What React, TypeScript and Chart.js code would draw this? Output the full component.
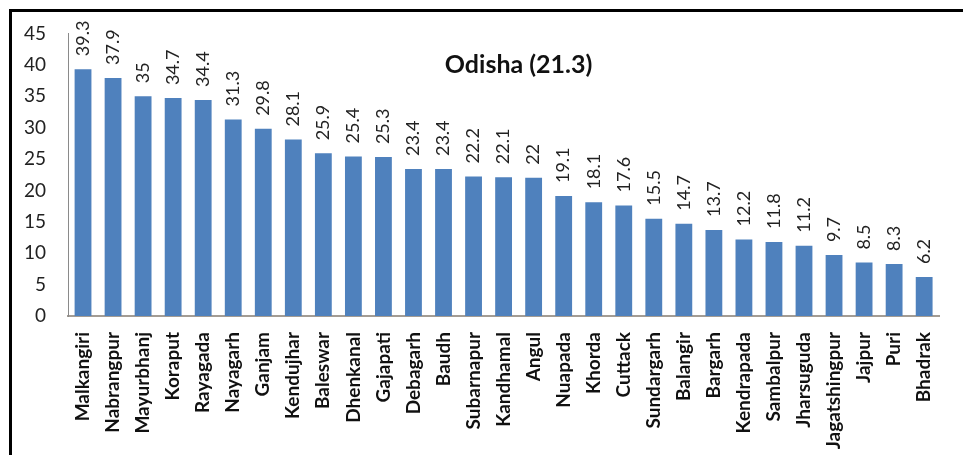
import React, { useEffect, useRef } from "react";
import { Chart, registerables } from "chart.js";

Chart.register(...registerables);

const districts: string[] = [
  "Malkangiri", "Nabrangpur", "Mayurbhanj", "Koraput", "Rayagada", "Nayagarh",
  "Ganjam", "Kendujhar", "Baleswar", "Dhenkanal", "Gajapati", "Debagarh", "Baudh",
  "Subarnapur", "Kandhamal", "Angul", "Nuapada", "Khorda", "Cuttack", "Sundargarh",
  "Balangir", "Bargarh", "Kendrapada", "Sambalpur", "Jharsuguda", "Jagatshingpur",
  "Jajpur", "Puri", "Bhadrak",
];

const values: number[] = [
  39.3, 37.9, 35, 34.7, 34.4, 31.3, 29.8, 28.1, 25.9, 25.4, 25.3, 23.4, 23.4,
  22.2, 22.1, 22, 19.1, 18.1, 17.6, 15.5, 14.7, 13.7, 12.2, 11.8, 11.2, 9.7,
  8.5, 8.3, 6.2,
];

const titleText = "Odisha (21.3)";
const yTicks: number[] = [0, 5, 10, 15, 20, 25, 30, 35, 40, 45];

const FONT = "Lato, 'Open Sans', sans-serif";

const valueLabelPlugin = {
  id: "valueLabels",
  afterDatasetsDraw(chart: any) {
    const ctx = chart.ctx;
    const meta = chart.getDatasetMeta(0);
    ctx.save();
    ctx.font = `18px ${FONT}`;
    ctx.fillStyle = "#222";
    ctx.textAlign = "left";
    ctx.textBaseline = "middle";
    meta.data.forEach((bar: any, i: number) => {
      ctx.save();
      ctx.translate(bar.x, bar.y - 13);
      ctx.rotate(-Math.PI / 2);
      ctx.fillText(String(values[i]), 0, 0);
      ctx.restore();
    });
    ctx.restore();
  },
};

const titlePlugin = {
  id: "innerTitle",
  afterDraw(chart: any) {
    const ctx = chart.ctx;
    const xs = chart.scales.x;
    const ys = chart.scales.y;
    const x = (xs.getPixelForValue(14) + xs.getPixelForValue(15)) / 2;
    const y = ys.getPixelForValue(40);
    ctx.save();
    ctx.font = `bold 25px ${FONT}`;
    ctx.fillStyle = "#111";
    ctx.textAlign = "center";
    ctx.textBaseline = "middle";
    ctx.fillText(titleText, x, y);
    ctx.restore();
  },
};

export default function App() {
  const canvasRef = useRef<HTMLCanvasElement | null>(null);

  useEffect(() => {
    document.body.style.margin = "0";
    document.body.style.overflow = "hidden";
    const canvas = canvasRef.current;
    if (!canvas) return;
    const chart = new Chart(canvas, {
      type: "bar",
      data: {
        labels: districts,
        datasets: [
          {
            data: values,
            backgroundColor: "#4f81bd",
            borderWidth: 0,
            barPercentage: 0.56,
            categoryPercentage: 1,
          },
        ],
      },
      options: {
        animation: false,
        responsive: false,
        maintainAspectRatio: false,
        layout: { padding: { left: 0, right: 2, top: 31, bottom: 0 } },
        plugins: {
          legend: { display: false },
          title: { display: false },
          tooltip: { enabled: false },
        },
        scales: {
          x: {
            grid: { display: false, drawTicks: false },
            border: { display: true, color: "#a39c94", width: 2 },
            ticks: {
              autoSkip: false,
              minRotation: 90,
              maxRotation: 90,
              padding: 16,
              color: "#111",
              font: { family: FONT, size: 19, weight: "bold" },
            },
            afterFit(scale: any) {
              scale.height = 139;
            },
          },
          y: {
            min: 0,
            max: 45,
            afterBuildTicks(scale: any) {
              scale.ticks = yTicks.map((v) => ({ value: v }));
            },
            grid: { display: false, drawTicks: false },
            border: { display: true, color: "#8a8a8a", width: 1 },
            ticks: {
              padding: 22,
              color: "#222",
              font: { family: FONT, size: 19 },
            },
            afterFit(scale: any) {
              scale.width = 68;
            },
          },
        },
      },
      plugins: [valueLabelPlugin, titlePlugin],
    });
    return () => chart.destroy();
  }, []);

  return (
    <div style={{ position: "relative", width: 963, height: 455, overflow: "hidden", background: "#fff" }}>
      <canvas ref={canvasRef} width={963} height={455} style={{ display: "block" }} />
      <div
        style={{
          position: "absolute",
          left: 9,
          top: 9,
          width: 1200,
          height: 1200,
          borderTop: "3px solid #000",
          borderLeft: "3px solid #000",
          pointerEvents: "none",
        }}
      />
    </div>
  );
}
